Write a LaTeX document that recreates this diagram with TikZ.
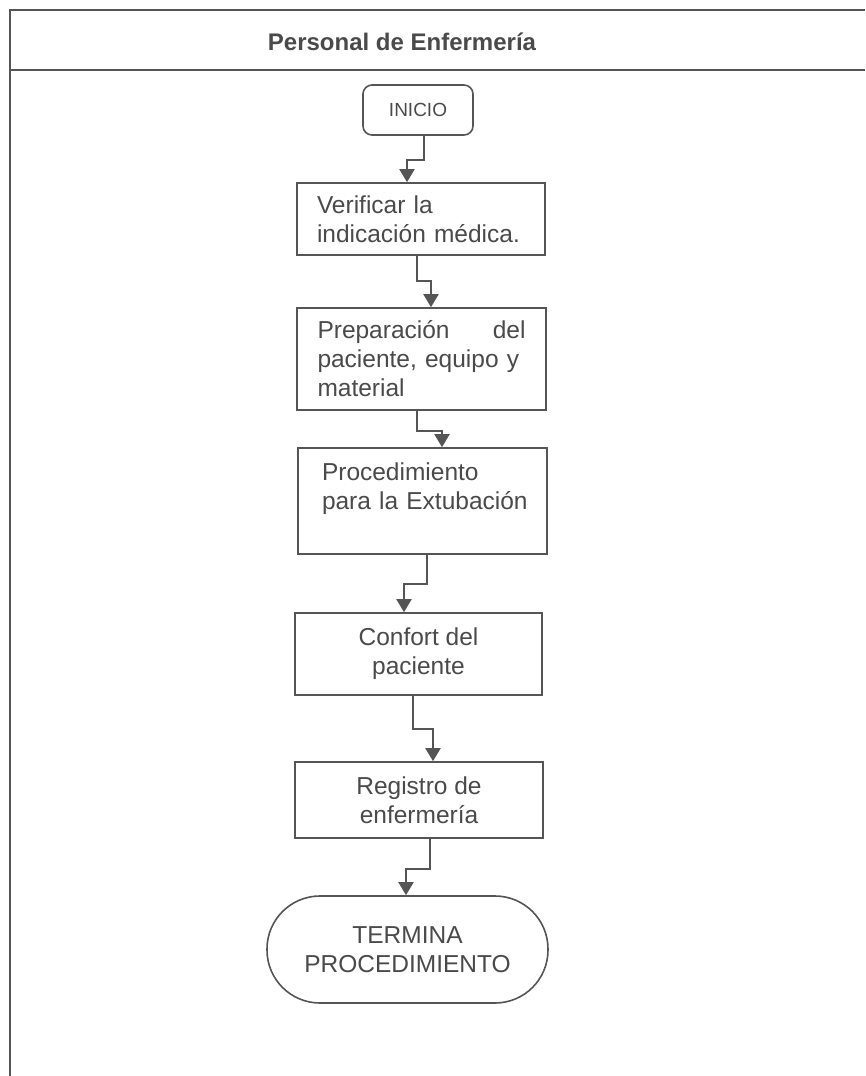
\documentclass[tikz,border=0pt]{standalone}
\usepackage{fontspec}
\setmainfont{Liberation Sans}
\usetikzlibrary{arrows.meta,calc}
\definecolor{ln}{HTML}{555555}
\definecolor{tx}{HTML}{4A4A4A}
\begin{document}
\begin{tikzpicture}[x=1pt,y=-1pt,
  every node/.style={text=tx},
  boxA/.style={draw=ln,line width=1.6pt,rectangle,inner sep=0pt,
    font=\fontsize{24.5}{29}\selectfont},
  conn/.style={draw=ln,line width=2pt,-{Triangle[length=13pt,width=15pt]}},
  frame/.style={draw=ln,line width=1.8pt}]
\useasboundingbox[fill=white] (0,0) rectangle (865,1076);
% frame
\draw[frame] (865,10) -- (10,10) -- (10,1076);
\draw[frame] (10,70) -- (865,70);
\node[font=\bfseries\fontsize{24}{28}\selectfont] (title) at (402,42) {Personal de Enfermería};
% nodes
\node[boxA,rounded corners=9pt,minimum width=110pt,minimum height=50pt,
  font=\fontsize{19}{22}\selectfont] (ini) at (418,110) {INICIO};
\node[boxA,minimum width=248pt,minimum height=72pt,text width=208pt,align=left] (ver) at (421,219)
  {Verificar la\\indicación médica.};
\node[boxA,minimum width=249pt,minimum height=102pt,text width=208pt,align=left] (prep) at (421.5,359)
  {Preparación\hfill del\\paciente, equipo y\\material};
\node[boxA,minimum width=249pt,minimum height=106pt,text width=201pt,align=left] (proc) at (422.5,501)
  {\mbox{Procedimiento}\\\mbox{para la Extubación}\\\mbox{}};
\node[boxA,minimum width=247pt,minimum height=82pt,align=center] (conf) at (418.5,654)
  {Confort del\\paciente};
\node[boxA,minimum width=248pt,minimum height=76pt,align=center] (reg) at (419,800)
  {Registro de\\enfermería};
\node[boxA,rounded corners=53pt,minimum width=281pt,minimum height=107pt,align=center] (term) at (407.5,949.5)
  {TERMINA\\PROCEDIMIENTO};
% connectors
\draw[conn] ([xshift=6pt]ini.south) -- ++(0,24) -| ([xshift=-14pt]ver.north);
\draw[conn] ([xshift=-4pt]ver.south) -- ++(0,25) -| ([xshift=9.5pt]prep.north);
\draw[conn] ([xshift=-4.5pt]prep.south) -- ++(0,20) -| ([xshift=19.5pt]proc.north);
\draw[conn] ([xshift=4.5pt]proc.south) -- ++(0,29) -| ([xshift=-14.5pt]conf.north);
\draw[conn] ([xshift=-5.5pt]conf.south) -- ++(0,33) -| ([xshift=14pt]reg.north);
\draw[conn] ([xshift=11pt]reg.south) -- ++(0,30) -| ([xshift=-1.5pt]term.north);
\end{tikzpicture}
\end{document}
